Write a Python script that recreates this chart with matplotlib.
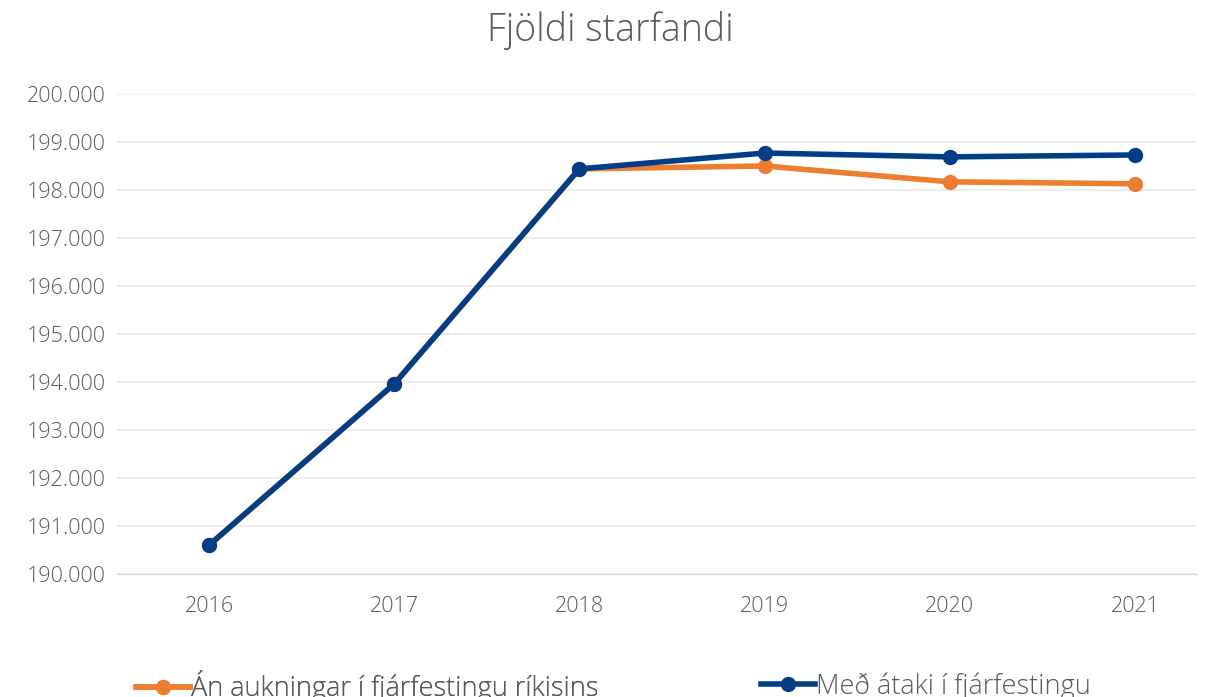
import matplotlib.pyplot as plt
from matplotlib.ticker import FuncFormatter

plt.rcParams['font.family'] = ['Open Sans', 'DejaVu Sans']

years = ['2016', '2017', '2018', '2019', '2020', '2021']
an_aukningar = [190600, 193960, 198440, 198500, 198170, 198130]
med_ataki = [190600, 193960, 198440, 198770, 198690, 198730]

fig = plt.figure(figsize=(12.13, 6.97), dpi=100)
ax = fig.add_axes([117/1213, 1-574/697, 1080/1213, 480/697])

x = list(range(len(years)))
l1, = ax.plot(x, an_aukningar, color='#ED7D31', lw=4, marker='o', ms=10,
              label='Án aukningar í fjárfestingu ríkisins', zorder=3)
l2, = ax.plot(x, med_ataki, color='#033D85', lw=4, marker='o', ms=10,
              label='Með átaki í fjárfestingu', zorder=4)

ax.set_ylim(190000, 200000)
ax.set_yticks(range(190000, 200001, 1000))
ax.yaxis.set_major_formatter(FuncFormatter(lambda v, p: f'{int(v):,}'.replace(',', '.')))
ax.set_xlim(-0.497, 5.335)
ax.set_xticks(x)
ax.set_xticklabels(years)
ax.grid(axis='y', color='#EBEBEB', lw=1.2)
ax.set_axisbelow(True)
for s in ['top', 'right', 'left']:
    ax.spines[s].set_visible(False)
ax.spines['bottom'].set_color('#D9D9D9')
ax.tick_params(length=0, labelsize=15.5, colors='#595959', pad=8)
ax.tick_params(axis='x', pad=16)
for lab in ax.get_yticklabels() + ax.get_xticklabels():
    lab.set_fontweight('light')

fig.text(0.503, 1-30/697, 'Fjöldi starfandi', ha='center', va='center',
         fontsize=27, color='#595959', fontweight='light')

# two legend entries placed separately, as in the original
leg1 = fig.legend(handles=[l1], loc='center left', bbox_to_anchor=(122/1213, 0.015),
                  frameon=False, handlelength=2.0, handletextpad=0.05, borderpad=0,
                  labelcolor='#595959', prop={'weight': 'light', 'size': 19.5})
fig.add_artist(leg1)
fig.legend(handles=[l2], loc='center left', bbox_to_anchor=(747/1213, 0.015),
           frameon=False, handlelength=2.0, handletextpad=0.05, borderpad=0,
           labelcolor='#595959', prop={'weight': 'light', 'size': 19.5})

fig.savefig('out.png', dpi=100)
